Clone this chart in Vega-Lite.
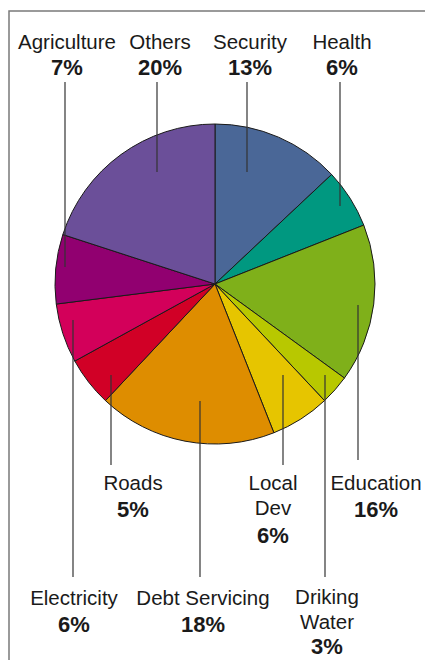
{
  "$schema": "https://vega.github.io/schema/vega-lite/v6.json",
  "width": 421,
  "height": 654,
  "autosize": {"type": "none"},
  "padding": {"left": 9, "top": 11, "right": -5, "bottom": -5},
  "background": "white",
  "config": {
    "view": {"stroke": "#7a7a7a", "strokeWidth": 1.5},
    "text": {"font": "Liberation Sans", "fontSize": 20.5, "color": "#1a1a1a"}
  },
  "datasets": {
    "slices": [
      {"sector": "Security", "share": 0.13, "rank": 1},
      {"sector": "Health", "share": 0.06, "rank": 2},
      {"sector": "Education", "share": 0.16, "rank": 3},
      {"sector": "Driking Water", "share": 0.03, "rank": 4},
      {"sector": "Local Dev", "share": 0.06, "rank": 5},
      {"sector": "Debt Servicing", "share": 0.18, "rank": 6},
      {"sector": "Roads", "share": 0.05, "rank": 7},
      {"sector": "Electricity", "share": 0.06, "rank": 8},
      {"sector": "Agriculture", "share": 0.07, "rank": 9},
      {"sector": "Others", "share": 0.20, "rank": 10}
    ],
    "labels": [
      {"sector": "Agriculture", "name": "Agriculture", "tx": 67, "ty": 49, "py": 75, "lx": 65, "ly1": 82, "ly2": 267},
      {"sector": "Others", "name": "Others", "tx": 160, "ty": 49, "py": 75, "lx": 157, "ly1": 82, "ly2": 172},
      {"sector": "Security", "name": "Security", "tx": 250, "ty": 49, "py": 75, "lx": 247, "ly1": 82, "ly2": 172},
      {"sector": "Health", "name": "Health", "tx": 342, "ty": 49, "py": 75, "lx": 340, "ly1": 82, "ly2": 206},
      {"sector": "Roads", "name": "Roads", "tx": 133, "ty": 490, "py": 517, "lx": 111, "ly1": 375, "ly2": 465},
      {"sector": "Local Dev", "name": "Local\nDev", "tx": 273, "ty": 490, "py": 543, "lx": 283, "ly1": 375, "ly2": 465},
      {"sector": "Education", "name": "Education", "tx": 376, "ty": 490, "py": 517, "lx": 358, "ly1": 305, "ly2": 460},
      {"sector": "Electricity", "name": "Electricity", "tx": 74, "ty": 605, "py": 632, "lx": 73, "ly1": 320, "ly2": 577},
      {"sector": "Debt Servicing", "name": "Debt Servicing", "tx": 203, "ty": 605, "py": 632, "lx": 200, "ly1": 401, "ly2": 577},
      {"sector": "Driking Water", "name": "Driking\nWater", "tx": 327, "ty": 604, "py": 654, "lx": 325, "ly1": 375, "ly2": 577}
    ]
  },
  "layer": [
    {
      "data": {"name": "slices"},
      "mark": {"type": "arc", "outerRadius": 160, "stroke": "#1a1a1a", "strokeWidth": 1},
      "encoding": {
        "theta": {"field": "share", "type": "quantitative", "stack": true},
        "order": {"field": "rank", "type": "quantitative"},
        "color": {
          "field": "sector",
          "type": "nominal",
          "legend": null,
          "scale": {
            "domain": ["Security", "Health", "Education", "Driking Water", "Local Dev", "Debt Servicing", "Roads", "Electricity", "Agriculture", "Others"],
            "range": ["#4a6797", "#009880", "#7fb01a", "#b8c800", "#e6c500", "#de8d00", "#d10026", "#d3005a", "#910070", "#6b4f99"]
          }
        },
        "x": {"datum": 215, "type": "quantitative", "axis": null, "scale": {"domain": [9, 430], "nice": false, "zero": false}},
        "y": {"datum": 284, "type": "quantitative", "axis": null, "scale": {"domain": [665, 11], "nice": false, "zero": false}}
      }
    },
    {
      "data": {"name": "labels"},
      "mark": {"type": "rule", "color": "#333333", "strokeWidth": 1.2},
      "encoding": {
        "x": {"field": "lx", "type": "quantitative", "axis": null, "scale": {"domain": [9, 430], "nice": false, "zero": false}},
        "y": {"field": "ly1", "type": "quantitative", "axis": null, "scale": {"domain": [665, 11], "nice": false, "zero": false}},
        "y2": {"field": "ly2"}
      }
    },
    {
      "data": {"name": "labels"},
      "mark": {"type": "text", "align": "center", "baseline": "alphabetic", "lineBreak": "\n", "lineHeight": 25},
      "encoding": {
        "x": {"field": "tx", "type": "quantitative", "axis": null, "scale": {"domain": [9, 430], "nice": false, "zero": false}},
        "y": {"field": "ty", "type": "quantitative", "axis": null, "scale": {"domain": [665, 11], "nice": false, "zero": false}},
        "text": {"field": "name", "type": "nominal"}
      }
    },
    {
      "data": {"name": "labels"},
      "transform": [
        {"lookup": "sector", "from": {"data": {"name": "slices"}, "key": "sector", "fields": ["share"]}}
      ],
      "mark": {"type": "text", "align": "center", "baseline": "alphabetic", "fontWeight": "bold", "fontSize": 22},
      "encoding": {
        "x": {"field": "tx", "type": "quantitative", "axis": null, "scale": {"domain": [9, 430], "nice": false, "zero": false}},
        "y": {"field": "py", "type": "quantitative", "axis": null, "scale": {"domain": [665, 11], "nice": false, "zero": false}},
        "text": {"field": "share", "type": "quantitative", "format": ".0%"}
      }
    }
  ]
}
